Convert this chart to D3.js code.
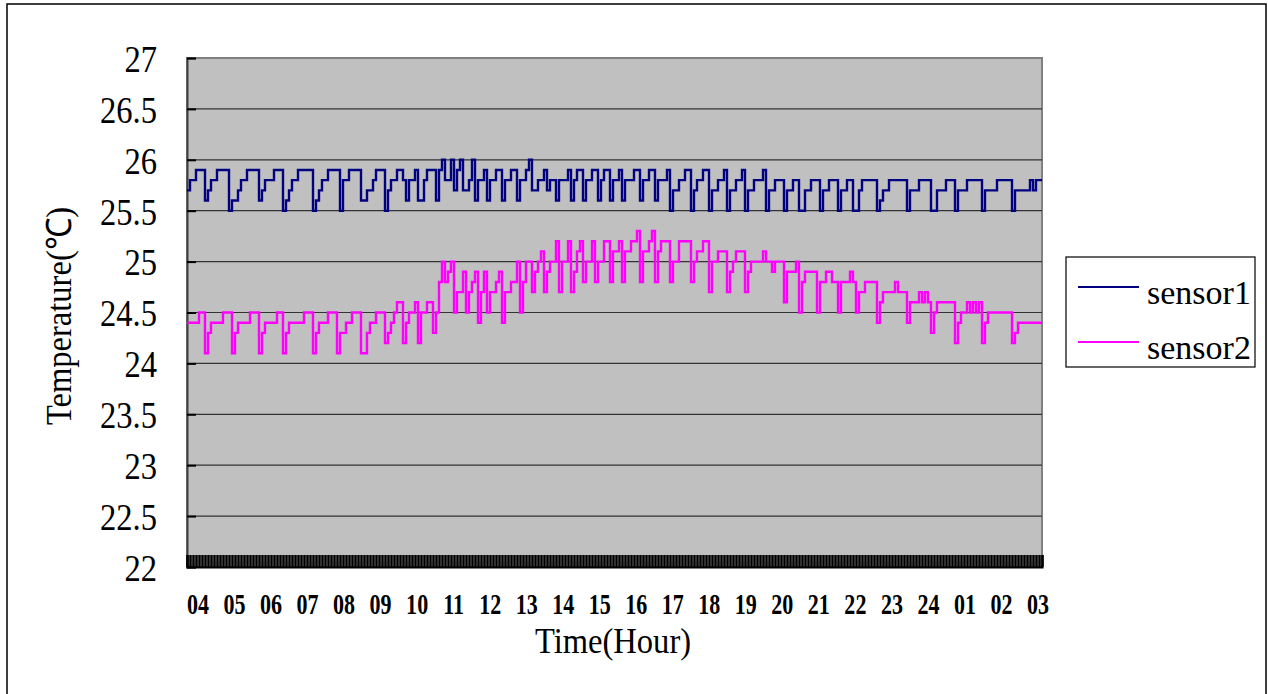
<!DOCTYPE html>
<html><head><meta charset="utf-8">
<script src="https://cdn.jsdelivr.net/npm/d3@7"></script>
<style>body{margin:0;background:#fff}svg{display:block}</style>
</head><body><svg id="c" width="1268" height="694"></svg>
<script>
const hourLabels = ["04","05","06","07","08","09","10","11","12","13","14","15","16","17","18","19","20","21","22","23","24","01","02","03"];
const yTickValues = [22,22.5,23,23.5,24,24.5,25,25.5,26,26.5,27];
const seriesNames = ["sensor1","sensor2"];
const seriesColors = ["#000080","#FF00FF"];
const yTitle = "Temperature(℃)";
const xTitle = "Time(Hour)";

const sensor1 = [
25.7,25.8,25.8,25.9,25.9,25.9,25.6,25.7,25.8,25.8,
25.9,25.9,25.9,25.9,25.5,25.6,25.6,25.7,25.8,25.8,
25.9,25.9,25.9,25.9,25.6,25.7,25.8,25.8,25.8,25.9,
25.9,25.9,25.5,25.6,25.7,25.8,25.8,25.9,25.9,25.9,
25.9,25.9,25.5,25.6,25.7,25.8,25.8,25.9,25.9,25.9,
25.9,25.5,25.8,25.8,25.9,25.9,25.9,25.9,25.6,25.6,
25.7,25.7,25.8,25.9,25.9,25.9,25.5,25.7,25.8,25.8,
25.9,25.9,25.8,25.6,25.8,25.8,25.9,25.6,25.6,25.8,
25.9,25.9,25.9,25.6,25.9,26.0,25.8,25.8,26.0,25.7,
25.9,26.0,25.7,25.7,25.8,26.0,25.6,25.8,25.8,25.9,
25.6,25.8,25.8,25.9,25.9,25.6,25.8,25.8,25.9,25.9,
25.6,25.8,25.8,25.9,26.0,25.7,25.7,25.8,25.8,25.9,
25.7,25.8,25.8,25.6,25.8,25.8,25.8,25.9,25.6,25.8,
25.9,25.9,25.6,25.8,25.8,25.9,25.9,25.6,25.8,25.9,
25.9,25.6,25.8,25.8,25.9,25.6,25.8,25.8,25.8,25.9,
25.9,25.6,25.8,25.8,25.9,25.9,25.6,25.8,25.8,25.8,
25.9,25.5,25.7,25.7,25.8,25.8,25.9,25.9,25.5,25.7,
25.8,25.8,25.9,25.9,25.5,25.7,25.7,25.8,25.8,25.9,
25.5,25.7,25.7,25.8,25.8,25.9,25.5,25.7,25.7,25.8,
25.8,25.8,25.9,25.5,25.7,25.7,25.8,25.8,25.8,25.5,
25.7,25.7,25.8,25.8,25.5,25.5,25.7,25.7,25.8,25.8,
25.8,25.5,25.7,25.7,25.8,25.8,25.8,25.5,25.7,25.7,
25.8,25.8,25.5,25.5,25.7,25.8,25.8,25.8,25.8,25.8,
25.5,25.6,25.7,25.7,25.8,25.8,25.8,25.8,25.8,25.8,
25.5,25.7,25.7,25.7,25.8,25.8,25.8,25.8,25.5,25.5,
25.7,25.7,25.7,25.8,25.8,25.8,25.5,25.7,25.7,25.7,
25.8,25.8,25.8,25.8,25.8,25.5,25.7,25.7,25.7,25.7,
25.8,25.8,25.8,25.8,25.8,25.5,25.7,25.7,25.7,25.7,
25.7,25.8,25.7,25.8,25.8
];
const sensor2 = [
24.4,24.4,24.4,24.4,24.5,24.5,24.1,24.3,24.4,24.4,
24.4,24.4,24.5,24.5,24.5,24.1,24.3,24.4,24.4,24.4,
24.4,24.5,24.5,24.5,24.1,24.3,24.4,24.4,24.4,24.4,
24.5,24.5,24.1,24.3,24.4,24.4,24.4,24.4,24.4,24.5,
24.5,24.5,24.1,24.3,24.4,24.4,24.4,24.5,24.5,24.5,
24.1,24.3,24.3,24.4,24.4,24.5,24.5,24.5,24.1,24.1,
24.3,24.4,24.4,24.5,24.5,24.5,24.2,24.3,24.4,24.5,
24.6,24.6,24.2,24.4,24.5,24.5,24.6,24.2,24.5,24.5,
24.6,24.6,24.3,24.5,24.8,25.0,24.8,24.9,25.0,24.5,
24.7,24.7,24.9,24.5,24.7,24.8,24.9,24.4,24.7,24.9,
24.5,24.7,24.7,24.8,24.9,24.4,24.7,24.7,24.8,24.8,
25.0,24.5,24.8,25.0,25.0,24.7,24.9,25.0,25.1,24.7,
24.9,25.0,25.0,25.2,24.7,25.0,25.0,25.2,24.7,24.9,
25.1,25.2,24.8,25.0,25.0,25.2,24.8,25.0,25.0,25.2,
25.2,24.8,25.1,25.1,25.2,24.8,25.1,25.1,25.2,25.2,
25.3,24.8,25.1,25.1,25.2,25.3,24.8,25.1,25.2,25.2,
25.2,24.8,25.0,25.0,25.2,25.2,25.2,25.2,24.8,25.0,
25.1,25.1,25.2,25.2,24.7,25.0,25.0,25.1,25.1,25.1,
24.7,24.9,25.0,25.1,25.1,25.1,24.7,24.9,25.0,25.0,
25.0,25.0,25.1,25.0,25.0,24.9,25.0,25.0,25.0,24.6,
24.9,24.9,24.9,25.0,24.5,24.8,24.9,24.9,24.9,24.9,
24.5,24.8,24.8,24.9,24.9,24.8,24.8,24.5,24.8,24.8,
24.8,24.9,24.8,24.5,24.7,24.7,24.8,24.8,24.8,24.8,
24.4,24.6,24.7,24.7,24.7,24.7,24.8,24.7,24.7,24.7,
24.4,24.6,24.6,24.6,24.7,24.6,24.7,24.6,24.3,24.5,
24.6,24.6,24.6,24.6,24.6,24.6,24.2,24.4,24.5,24.5,
24.6,24.5,24.6,24.5,24.6,24.2,24.4,24.5,24.5,24.5,
24.5,24.5,24.5,24.5,24.5,24.2,24.3,24.4,24.4,24.4,
24.4,24.4,24.4,24.4,24.4
];
const seriesData = [sensor1, sensor2];

const svg = d3.select("#c");
const font = "'Liberation Serif','Times New Roman',serif";
const L = 187, R = 1042, T = 58, B = 567;
const N = sensor1.length;

// squeeze text horizontally so glyphs look tall and narrow like the original
function condense(sel, f) {
  sel.each(function () {
    const w = this.getComputedTextLength();
    d3.select(this).attr("textLength", w * f).attr("lengthAdjust", "spacingAndGlyphs");
  });
}

const x = d3.scaleLinear().domain([0, N]).range([L, R]);
const y = d3.scaleLinear().domain([22, 27]).range([B, T]);
const xl = d3.scalePoint().domain(hourLabels).range([198, 1038]);

// outer frame
svg.append("rect").attr("x", 7).attr("y", 4).attr("width", 1259).attr("height", 692)
  .attr("fill", "#fff").attr("stroke", "#000").attr("stroke-width", 1.5);

// plot background
svg.append("rect").attr("x", L).attr("y", T).attr("width", R - L).attr("height", B - T)
  .attr("fill", "#C0C0C0").attr("stroke", "#808080").attr("stroke-width", 2);

// gridlines
svg.append("g").selectAll("line").data(yTickValues.filter(v => v > 22 && v < 27)).join("line")
  .attr("x1", L).attr("x2", R).attr("y1", d => y(d)).attr("y2", d => y(d))
  .attr("stroke", "#333").attr("stroke-width", 1.2);

// y axis
const ya = svg.append("g").attr("transform", `translate(${L},0)`)
  .call(d3.axisLeft(y).tickValues(yTickValues).tickSize(-9).tickPadding(30).tickFormat(d3.format("")));
ya.select(".domain").attr("stroke", "#404040").attr("stroke-width", 2);
ya.selectAll(".tick line").attr("stroke", "#000").attr("stroke-width", 2);
ya.selectAll(".tick text").attr("font-family", font).attr("font-size", 37).attr("fill", "#000")
  .attr("dy", "0.36em");
condense(ya.selectAll(".tick text"), 0.88);

// series lines
const line = d3.line().x((d, i) => x(i)).y(d => y(d)).curve(d3.curveStepAfter);
seriesData.forEach((s, k) => {
  const pts = s.concat([s[s.length - 1]]);
  svg.append("path").datum(pts).attr("d", line).attr("fill", "none")
    .attr("stroke", seriesColors[k]).attr("stroke-width", 2.4);
});

// x axis dense tick band
const xa = svg.append("g").attr("transform", `translate(0,${B})`)
  .call(d3.axisBottom(x).tickValues(d3.range(0, N + 1)).tickSize(-12).tickFormat(""));
xa.select(".domain").attr("stroke", "#000").attr("stroke-width", 2);
xa.selectAll(".tick line").attr("stroke", "#000").attr("stroke-width", 2.5);

// hour labels
const hl = svg.append("g").selectAll("text").data(hourLabels).join("text")
  .attr("x", d => xl(d)).attr("y", 614).attr("text-anchor", "middle")
  .attr("font-family", font).attr("font-weight", "bold").attr("font-size", 29).text(d => d);
condense(hl, 0.76);

// titles
const xt = svg.append("text").attr("x", 613).attr("y", 653).attr("text-anchor", "middle")
  .attr("font-family", font).attr("font-size", 35).text(xTitle);
condense(xt, 0.93);
const yt = svg.append("text").attr("transform", "translate(71,316) rotate(-90)").attr("text-anchor", "middle")
  .attr("font-family", font).attr("font-size", 35).text(yTitle);
condense(yt, 0.93);

// legend
const lg = svg.append("g");
lg.append("rect").attr("x", 1066).attr("y", 257).attr("width", 189).attr("height", 110)
  .attr("fill", "#fff").attr("stroke", "#000").attr("stroke-width", 1.2);
seriesNames.forEach((n, k) => {
  const yy = 287 + k * 55;
  lg.append("line").attr("x1", 1078).attr("x2", 1139).attr("y1", yy).attr("y2", yy)
    .attr("stroke", seriesColors[k]).attr("stroke-width", 2);
  lg.append("text").attr("x", 1147).attr("y", yy + 17).attr("font-family", font)
    .attr("font-size", 34).text(n);
});
</script></body></html>
